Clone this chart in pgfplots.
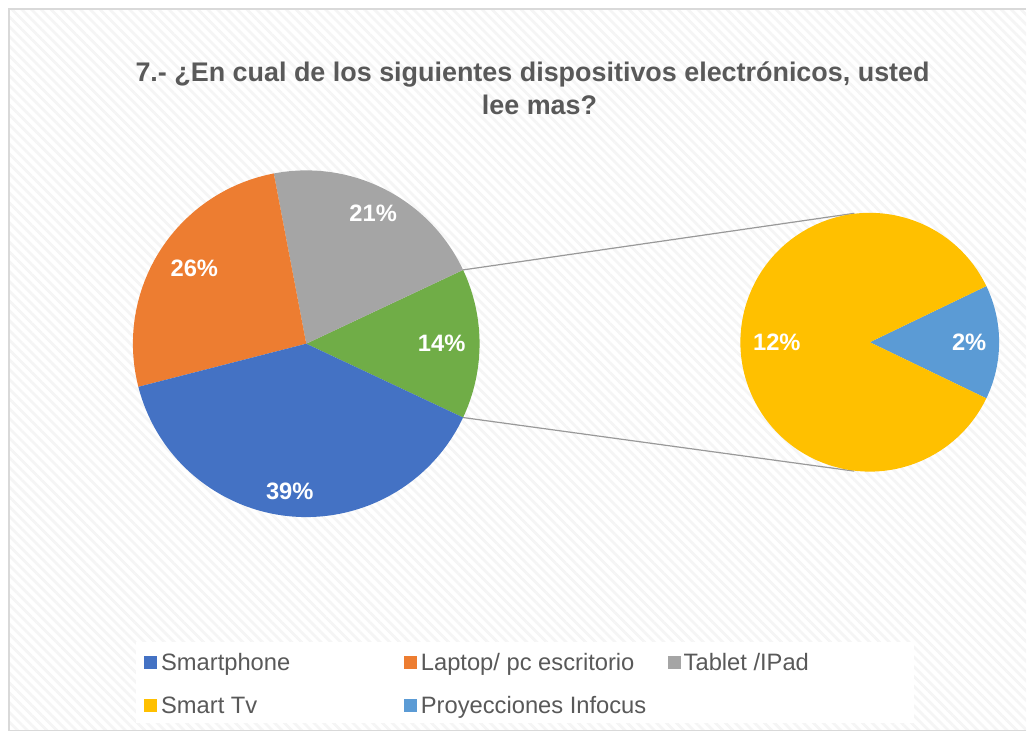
\documentclass[border=0pt]{standalone}
\usepackage{pgfplots}
\pgfplotsset{compat=1.18}
\usepackage{pgfplotstable}
\usepackage{fontspec}
\setmainfont{Liberation Sans}
\usetikzlibrary{patterns.meta}
\definecolor{cBlue}{HTML}{4472C4}
\definecolor{cOrange}{HTML}{ED7D31}
\definecolor{cGray}{HTML}{A5A5A5}
\definecolor{cYellow}{HTML}{FFC000}
\definecolor{cLBlue}{HTML}{5B9BD5}
\definecolor{cGreen}{HTML}{70AD47}
\definecolor{cText}{HTML}{595959}
\definecolor{cBorder}{HTML}{D9D9D9}

% main pie (Otros = Smart Tv + Proyecciones)
\pgfplotstableread{
name value
Otros 14
Tablet 21
Laptop 26
Smartphone 39
}\pieA
% secondary pie
\pgfplotstableread{
name value
Proyecciones 2
SmartTv 12
}\pieB

\begin{document}
\begin{tikzpicture}
\pgfplotstablegetelem{0}{value}\of\pieA \edef\va{\pgfplotsretval}
\pgfplotstablegetelem{1}{value}\of\pieA \edef\vb{\pgfplotsretval}
\pgfplotstablegetelem{2}{value}\of\pieA \edef\vc{\pgfplotsretval}
\pgfplotstablegetelem{3}{value}\of\pieA \edef\vd{\pgfplotsretval}
\pgfplotstablegetelem{0}{value}\of\pieB \edef\ve{\pgfplotsretval}
\pgfplotstablegetelem{1}{value}\of\pieB \edef\vf{\pgfplotsretval}
\pgfmathsetmacro\tot{\va+\vb+\vc+\vd}
\pgfmathsetmacro\aA{-180*\va/\tot}
\pgfmathsetmacro\aB{\aA+360*\va/\tot}
\pgfmathsetmacro\aC{\aB+360*\vb/\tot}
\pgfmathsetmacro\aD{\aC+360*\vc/\tot}
\pgfmathsetmacro\aE{\aA+360}
\pgfmathsetmacro\totB{\ve+\vf}
\pgfmathsetmacro\bA{-180*\ve/\totB}
\pgfmathsetmacro\bB{-\bA}
\pgfmathsetmacro\bC{\bA+360}
% connector end points (pixel units, y downwards)
\pgfmathsetmacro\pAx{306.5+173.5*cos(\aB)}
\pgfmathsetmacro\pAy{344-173.5*sin(\aB)}
\pgfmathsetmacro\pBx{306.5+173.5*cos(\aA)}
\pgfmathsetmacro\pBy{344-173.5*sin(\aA)}
\begin{axis}[hide axis, scale only axis, width=770.25pt, height=549.75pt,
  xmin=0, xmax=1027, ymin=0, ymax=733, y dir=reverse, clip=false]
\path (axis cs:0,0) rectangle (axis cs:1027,733);
% chart area
\fill[white] (axis cs:9,9) rectangle (axis cs:1027,731);
\fill[pattern={Lines[angle=-45,distance=5.2pt,line width=2pt]}, pattern color=black!4]
  (axis cs:9,9) rectangle (axis cs:1027,731);
\draw[cBorder, line width=1.3pt] (axis cs:1027,9) -- (axis cs:9,9) -- (axis cs:9,731) -- (axis cs:1027,731);
% title
\node[text=cText, font=\bfseries\fontsize{20.2}{24}\selectfont] at (axis cs:533,75)
  {7.- ¿En cual de los siguientes dispositivos electrónicos, usted};
\node[text=cText, font=\bfseries\fontsize{20.2}{24}\selectfont] at (axis cs:540,105) {lee mas?};
% connector lines
\draw[gray!80, line width=0.9pt] (axis cs:\pAx,\pAy) -- (axis cs:855,213.5);
\draw[gray!80, line width=0.9pt] (axis cs:\pBx,\pBy) -- (axis cs:855,471.5);
% main pie
\fill[cGreen]  (axis cs:306.5,344) -- ++(\aA:130.1pt) arc[start angle=\aA, end angle=\aB, radius=130.1pt] -- cycle;
\fill[cGray]   (axis cs:306.5,344) -- ++(\aB:130.1pt) arc[start angle=\aB, end angle=\aC, radius=130.1pt] -- cycle;
\fill[cOrange] (axis cs:306.5,344) -- ++(\aC:130.1pt) arc[start angle=\aC, end angle=\aD, radius=130.1pt] -- cycle;
\fill[cBlue]   (axis cs:306.5,344) -- ++(\aD:130.1pt) arc[start angle=\aD, end angle=\aE, radius=130.1pt] -- cycle;
% secondary pie
\fill[cLBlue]  (axis cs:870.5,342.5) -- ++(\bA:97.1pt) arc[start angle=\bA, end angle=\bB, radius=97.1pt] -- cycle;
\fill[cYellow] (axis cs:870.5,342.5) -- ++(\bB:97.1pt) arc[start angle=\bB, end angle=\bC, radius=97.1pt] -- cycle;
% data labels
\begin{scope}[every node/.style={text=white, font=\bfseries\fontsize{17.8}{20}\selectfont}]
\node at (axis cs:442,343.5) {\va\%};
\node at (axis cs:373.5,213.5) {\vb\%};
\node at (axis cs:194.5,268.5) {\vc\%};
\node at (axis cs:290,491.5) {\vd\%};
\node at (axis cs:970,343) {\ve\%};
\node at (axis cs:777.5,343) {\vf\%};
\end{scope}
% legend
\fill[white] (axis cs:136,643) rectangle (axis cs:915,724);
\fill[cBlue]   (axis cs:144,657) rectangle (axis cs:157,670);
\fill[cOrange] (axis cs:404,657) rectangle (axis cs:417,670);
\fill[cGray]   (axis cs:669,657) rectangle (axis cs:682,670);
\fill[cYellow] (axis cs:144,700) rectangle (axis cs:157,713);
\fill[cLBlue]  (axis cs:404,700) rectangle (axis cs:417,713);
\begin{scope}[every node/.style={text=cText, anchor=base west, inner sep=0pt, font=\fontsize{17.8}{20}\selectfont}]
\node at (axis cs:161,671.5) {Smartphone};
\node at (axis cs:421,671.5) {Laptop/ pc escritorio};
\node at (axis cs:684,671.5) {Tablet /IPad};
\node at (axis cs:161,714.5) {Smart Tv};
\node at (axis cs:421,714.5) {Proyecciones Infocus};
\end{scope}
\end{axis}
\end{tikzpicture}
\end{document}
